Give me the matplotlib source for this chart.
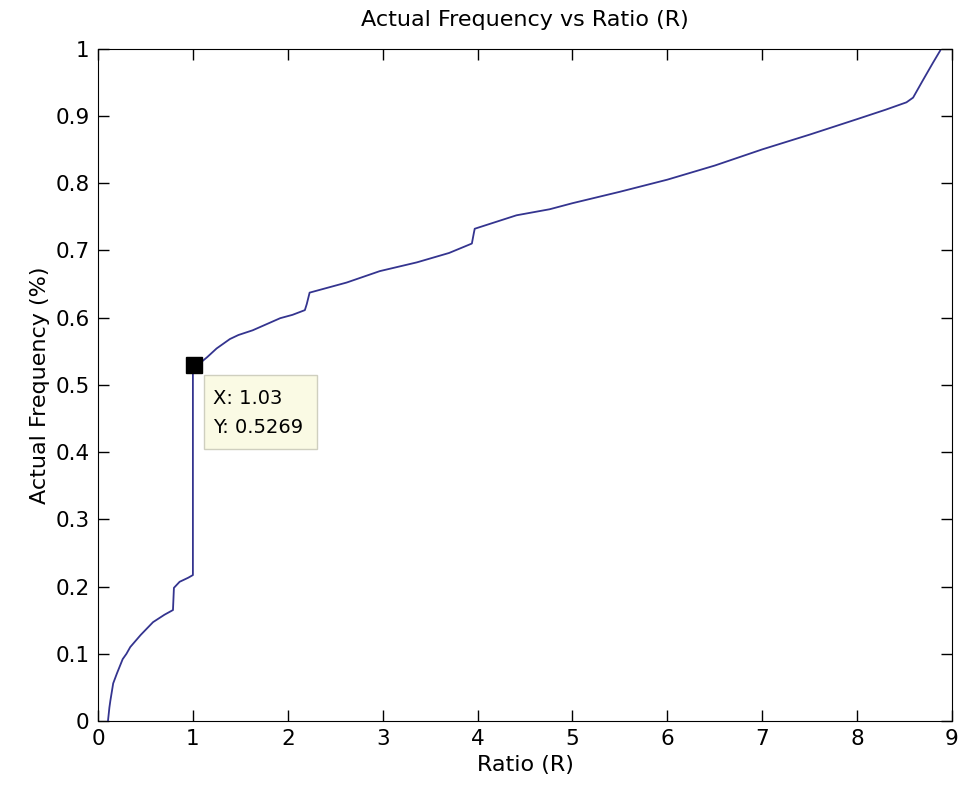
import matplotlib
matplotlib.use("Agg")
from matplotlib import pyplot as plt
from matplotlib.patches import Rectangle

# Кривая: Ratio (R) -> Actual Frequency
ratio = [0.105, 0.12, 0.13, 0.16, 0.20, 0.26, 0.30, 0.34, 0.45, 0.58, 0.70, 0.79, 0.80,
         0.86, 0.95, 1.00, 1.00, 1.03, 1.15, 1.25, 1.39, 1.48, 1.63, 1.92, 2.05, 2.18,
         2.20, 2.23, 2.62, 2.97, 3.36, 3.70, 3.94, 3.96, 3.97, 4.41, 4.76, 5.00, 5.50,
         6.00, 6.50, 7.00, 7.50, 8.00, 8.30, 8.52, 8.59, 8.69, 8.80, 8.88]
freq = [0.0, 0.02, 0.03, 0.056, 0.071, 0.092, 0.10, 0.11, 0.128, 0.147, 0.158, 0.165, 0.198,
        0.207, 0.213, 0.217, 0.527, 0.5269, 0.541, 0.554, 0.568, 0.574, 0.581, 0.599, 0.604, 0.611,
        0.620, 0.637, 0.652, 0.669, 0.682, 0.696, 0.710, 0.725, 0.732, 0.752, 0.761, 0.770, 0.787,
        0.805, 0.826, 0.850, 0.872, 0.895, 0.909, 0.920, 0.927, 0.952, 0.979, 0.998]

tip_x = 1.03
tip_y = 0.5269

fig = plt.figure(figsize=(9.59, 7.93), dpi=100)
ax = fig.add_axes([0.1022, 0.0908, 0.8905, 0.848])

ax.plot(ratio, freq, color="#34348f", linewidth=1.3)
ax.plot([tip_x - 0.018], [tip_y + 0.003], marker="s", color="black", markersize=11.5)

# Подсказка с координатами (как data tip в MATLAB)
ax.add_patch(Rectangle((1.117, 0.404), 1.19, 0.11, facecolor="#fafae4",
                       edgecolor="#cfcfbf", linewidth=1, zorder=3))
ax.text(1.21, 0.480, "X: 1.03", fontsize=14, va="center", ha="left", zorder=4)
ax.text(1.21, 0.437, "Y: 0.5269", fontsize=14, va="center", ha="left", zorder=4)

ax.set_xlim(0, 9)
ax.set_ylim(0, 1)
ax.set_xticks(range(0, 10))
ax.set_yticks([i / 10 for i in range(11)])
ax.set_yticklabels(["0"] + ["0.%d" % i for i in range(1, 10)] + ["1"])
ax.tick_params(direction="in", length=8, width=1, top=True, right=True,
               labelsize=15.5, pad=6)

ax.set_title("Actual Frequency vs Ratio (R)", fontsize=16, pad=16)
ax.set_xlabel("Ratio (R)", fontsize=16, labelpad=4)
ax.set_ylabel("Actual Frequency (%)", fontsize=16, labelpad=4)

fig.savefig("out.png", dpi=100)
